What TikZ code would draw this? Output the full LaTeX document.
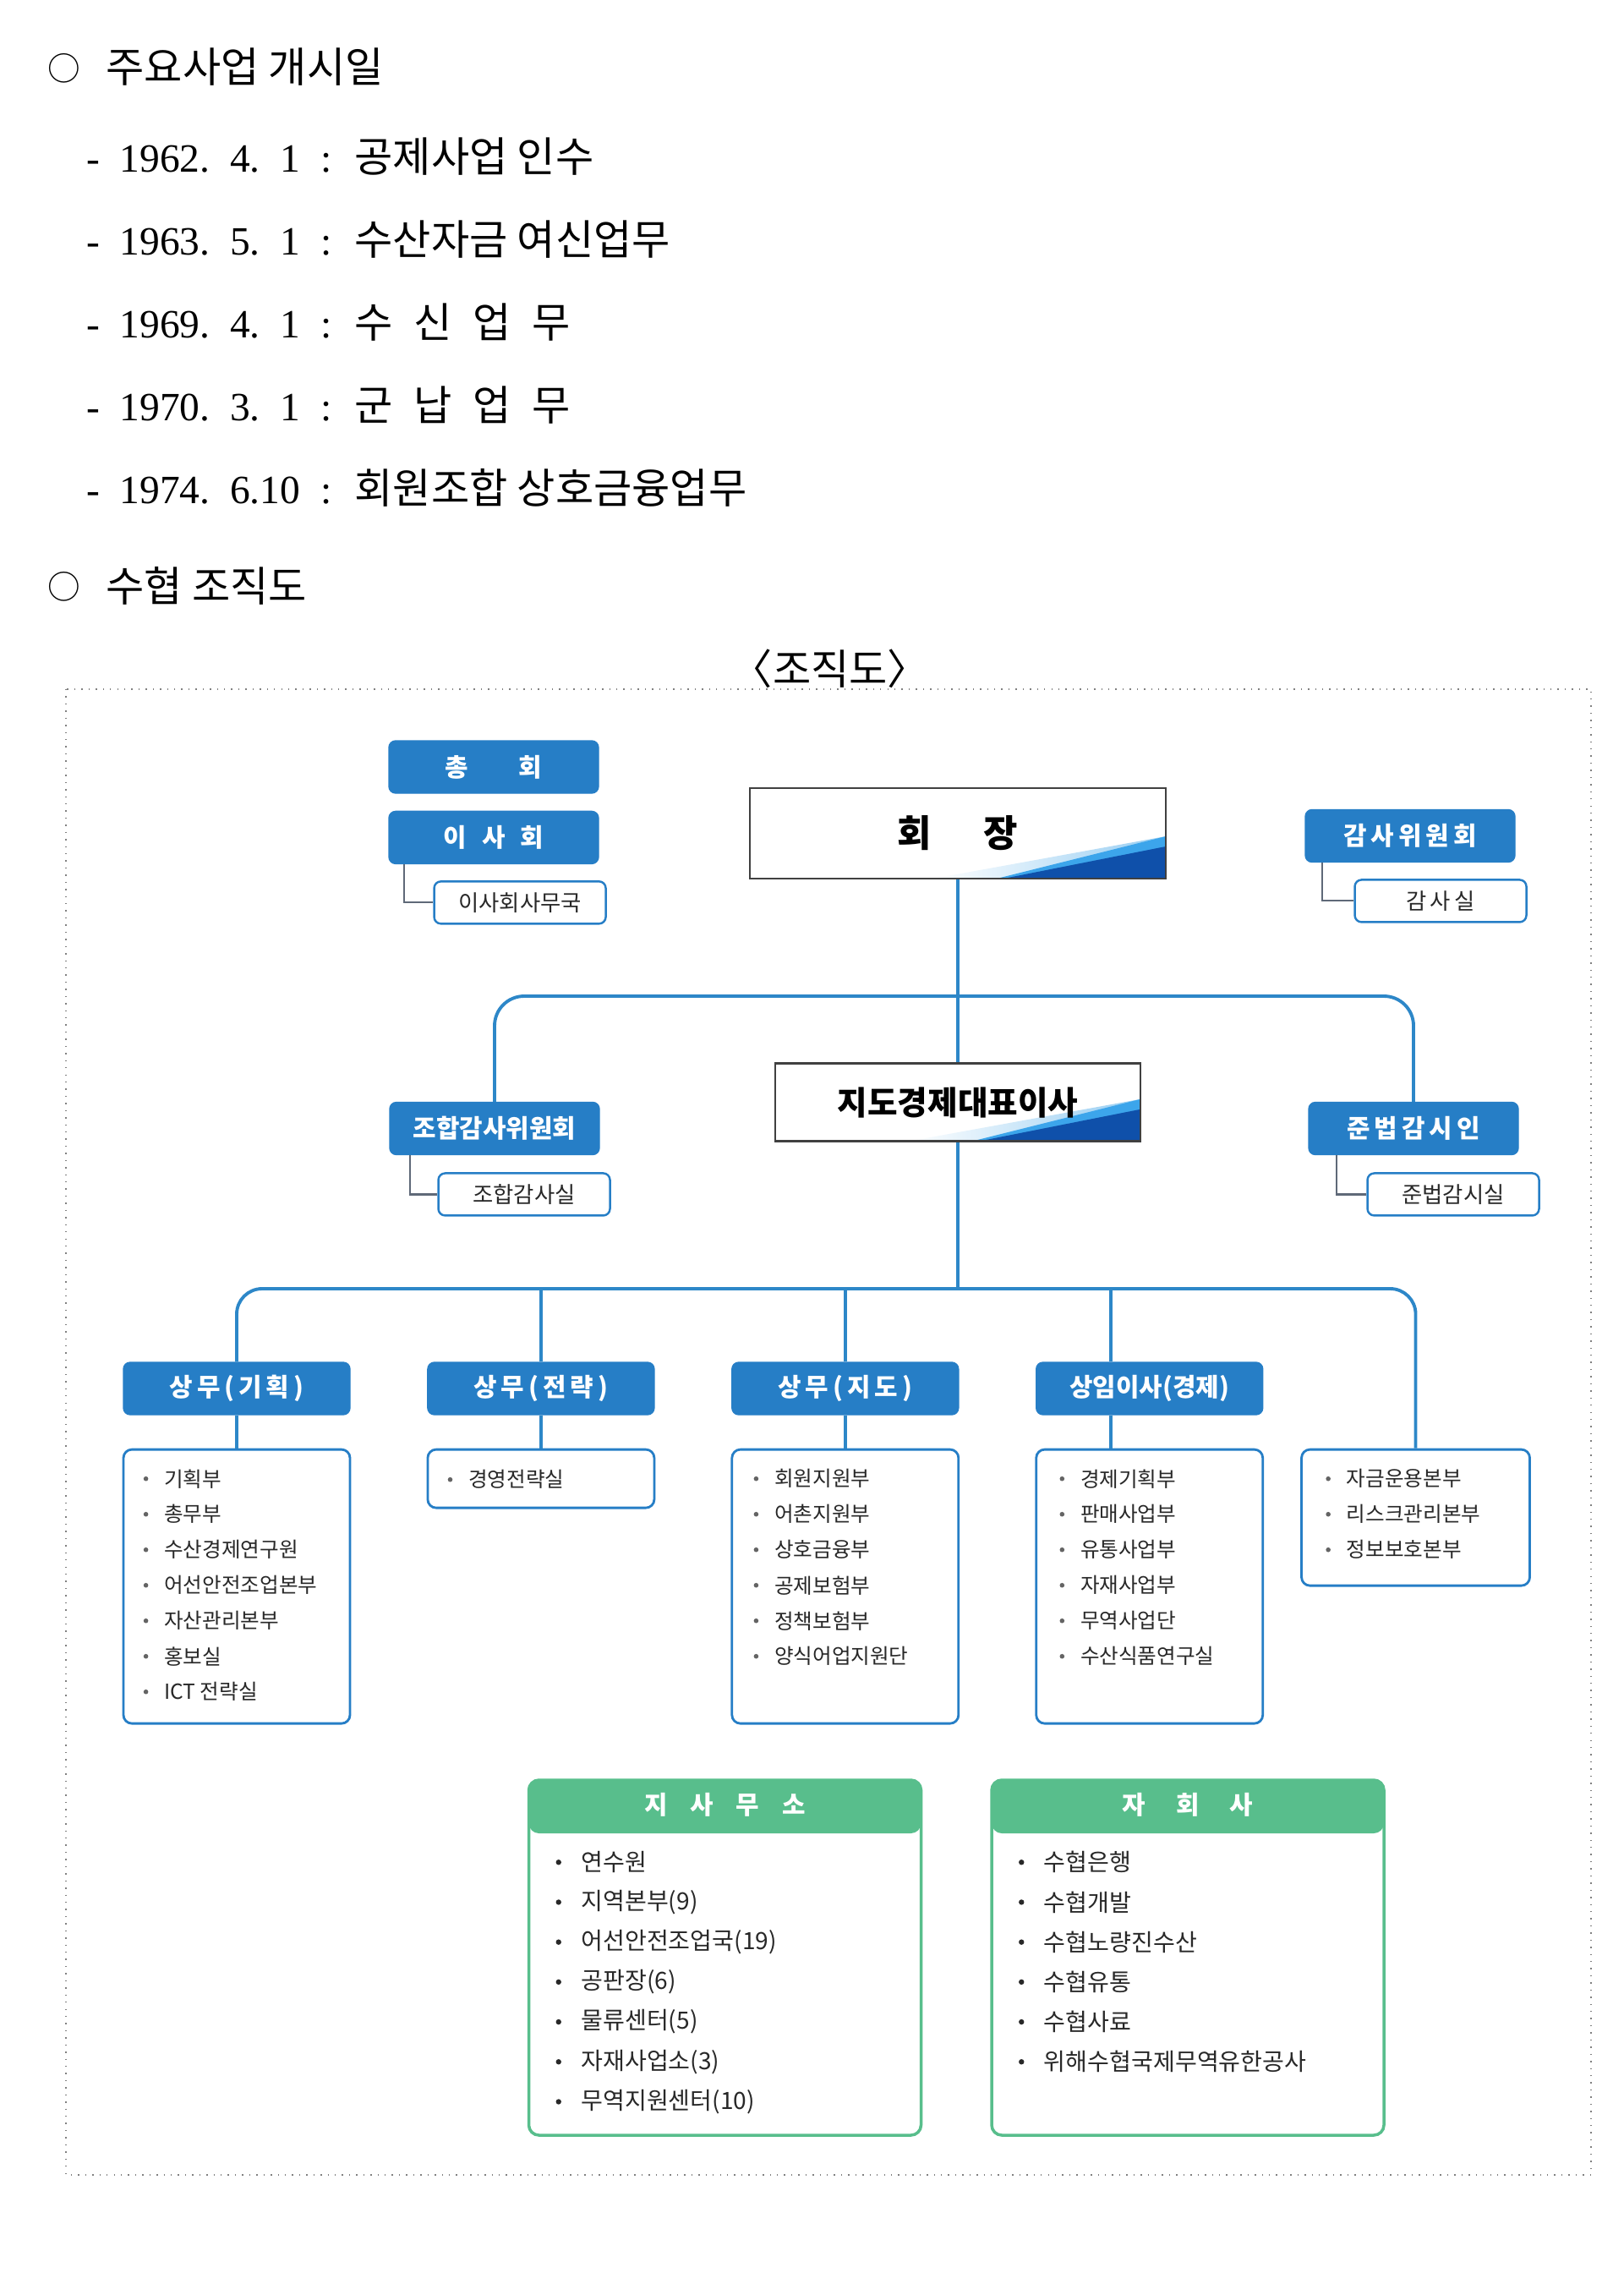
\documentclass[tikz,border=0pt]{standalone}
\usepackage{fontspec}
\setmainfont{Liberation Serif}
\newfontfamily\kr{Noto Sans CJK KR}
\usetikzlibrary{calc,positioning}
\definecolor{sxblue}{RGB}{38,126,198}
\definecolor{sxline}{RGB}{45,135,200}
\definecolor{sxgreen}{RGB}{88,190,140}
\definecolor{sxsub}{RGB}{95,105,120}
\definecolor{sxtext}{RGB}{40,40,40}
\definecolor{sxdot}{RGB}{100,100,100}
\definecolor{sxpale}{RGB}{150,205,242}
\definecolor{sxcyan}{RGB}{60,165,235}
\definecolor{sxdark}{RGB}{15,80,170}

\begin{document}
\begin{tikzpicture}[x=1cm,y=-1cm,inner sep=0pt]
\tikzstyle{para}=[anchor=base west,font=\kr\fontsize{14}{16}\selectfont]
\tikzstyle{date}=[anchor=base west,font=\fontsize{13.5}{16}\selectfont]
\tikzstyle{ring}=[font=\kr\fontsize{11}{12}\selectfont]
\tikzstyle{hdr}=[rounded corners=0.8mm,fill=sxblue,draw=sxblue,text=white,minimum width=24.8mm,minimum height=6.2mm,font=\kr\bfseries\fontsize{8.5}{10}\selectfont]
\tikzstyle{sub}=[rounded corners=0.8mm,draw=sxblue,fill=white,line width=0.7pt,minimum width=20.3mm,minimum height=5mm,text=sxtext,font=\kr\fontsize{7.5}{9}\selectfont]
\tikzstyle{wave}=[path picture={
  \coordinate (w) at (path picture bounding box.south east);
  \shade[left color=white,right color=sxpale] ($(w)+(-2.75,0)$) -- ($(w)+(0,-0.5)$) -- (w) -- cycle;
  \fill[sxcyan] ($(w)+(-2.0,0)$) -- ($(w)+(0,-0.5)$) -- (w) -- cycle;
  \fill[sxdark] ($(w)+(-1.92,0)$) -- ($(w)+(0,-0.38)$) -- (w) -- cycle;}]
\tikzstyle{chief}=[draw=black!75,line width=0.8pt,fill=white,wave]
\tikzstyle{lst}=[rounded corners=1mm,draw=sxblue,line width=0.8pt,fill=white,minimum width=26.8mm]
\tikzstyle{item}=[anchor=west,text=sxtext,font=\kr\fontsize{7}{8}\selectfont]
\tikzstyle{greenhead}=[path picture={
  \fill[sxgreen] (path picture bounding box.north west) rectangle ($(path picture bounding box.north east)+(0,0.63)$);}]
\tikzstyle{big}=[rounded corners=1.2mm,draw=sxgreen,line width=1pt,fill=white,minimum width=46.4mm,minimum height=42mm,greenhead]
\tikzstyle{ghdr}=[text=white,font=\kr\bfseries\fontsize{8.5}{10}\selectfont]
\tikzstyle{gitem}=[anchor=west,text=sxtext,font=\kr\fontsize{8}{9}\selectfont]
\tikzstyle{conn}=[draw=sxline,line width=1.1pt]
\tikzstyle{subc}=[draw=sxsub,line width=0.6pt]

\useasboundingbox (0,0) rectangle (19.2,27.14);

\node[ring] (bul1) at (0.76,0.81) {○};
\node[para] (head1) at (1.25,0.98) {주요사업 개시일};
\foreach \d/\t [count=\i from 0] in {1962.\hspace{0.5em}4.\hspace{0.5em}1/공제사업 인수,1963.\hspace{0.5em}5.\hspace{0.5em}1/수산자금 여신업무,1969.\hspace{0.5em}4.\hspace{0.5em}1/수\hspace{0.5em}신\hspace{0.5em}업\hspace{0.5em}무,1970.\hspace{0.5em}3.\hspace{0.5em}1/군\hspace{0.5em}납\hspace{0.5em}업\hspace{0.5em}무,1974.\hspace{0.5em}6.10/회원조합 상호금융업무}{
  \node[date,anchor=base] (dash\i) at (1.10,2.04+0.9775*\i) {-};
  \node[date] (date\i) at (1.41,2.04+0.9775*\i) {\d};
  \node[date,anchor=base] (colon\i) at (3.86,2.04+0.9775*\i) {:};
  \node[para] (work\i) at (4.19,2.04+0.9775*\i) {\t};
}
\node[ring] (bul2) at (0.76,6.94) {○};
\node[para] (head2) at (1.25,7.11) {수협 조직도};
\node[font=\kr\fontsize{14}{16}\selectfont] (caption) at (9.82,7.91) {〈조직도〉};

\draw[gray,dotted,line width=0.4pt] (0.78,8.15) rectangle (18.82,25.72);

\node[hdr] (chonghoe) at (5.84,9.07) {총\hspace{2em}회};
\node[hdr] (isahoe) [below = 2mm of chonghoe] {이\hspace{0.6em}사\hspace{0.6em}회};
\node[sub] (isasamu) [below right = 1.9mm and 5.3mm of isahoe.south west] {이사회사무국};
\node[chief,minimum width=49.2mm,minimum height=10.7mm,font=\kr\bfseries\fontsize{12.5}{14}\selectfont] (hoejang) at (11.33,9.855) {회\hspace{1.4em}장};
\node[hdr] (gamsawi) at (16.68,9.885) {감\,사\,위\,원\,회};
\node[sub] (gamsasil) [below right = 1.9mm and 5.8mm of gamsawi.south west] {감\,사\,실};

\node[chief,minimum width=43.2mm,minimum height=9.2mm,font=\kr\bfseries\fontsize{11}{13}\selectfont] (daepyo) [below = 21.6mm of hoejang] {지도경제대표이사};
\node[hdr] (johapgam) at (5.85,13.345) {조합감사위원회};
\node[sub] (johapsil) [below right = 2mm and 5.7mm of johapgam.south west] {조합감사실};
\node[hdr] (junbeop) at (16.72,13.345) {준\,법\,감\,시\,인};
\node[sub] (junbeopsil) [below right = 2mm and 6.9mm of junbeop.south west] {준법감시실};

\node[hdr,minimum width=26.8mm] (sang1) at (2.80,16.42) {상\,무\,(\,기\,획\,)};
\node[hdr,minimum width=26.8mm] (sang2) [right = 9.05mm of sang1] {상\,무\,(\,전\,략\,)};
\node[hdr,minimum width=26.8mm] (sang3) [right = 9.05mm of sang2] {상\,무\,(\,지\,도\,)};
\node[hdr,minimum width=26.8mm] (sang4) [right = 9.05mm of sang3] {상임이사(경제)};
\node[lst,minimum height=32.4mm] (list1) [below = 3.9mm of sang1] {};
\node[lst,minimum height=6.9mm] (list2) [below = 3.9mm of sang2] {};
\node[lst,minimum height=32.4mm] (list3) [below = 3.9mm of sang3] {};
\node[lst,minimum height=32.4mm] (list4) [below = 3.9mm of sang4] {};
\node[lst,minimum width=27mm,minimum height=16.1mm] (list5) [below right = 0mm and 4.3mm of list4.north east] {};

\foreach \t [count=\i from 0] in {기획부,총무부,수산경제연구원,어선안전조업본부,자산관리본부,홍보실,ICT 전략실}{
  \fill[sxdot] ($(list1.north west)+(0.28,0.36+0.42*\i)$) circle (0.28mm);
  \node[item] (la\i) at ($(list1.north west)+(0.49,0.36+0.42*\i)$) {\t};
}
\fill[sxdot] ($(list2.north west)+(0.28,0.37)$) circle (0.28mm);
\node[item] (lb0) at ($(list2.north west)+(0.49,0.37)$) {경영전략실};
\foreach \t [count=\i from 0] in {회원지원부,어촌지원부,상호금융부,공제보험부,정책보험부,양식어업지원단}{
  \fill[sxdot] ($(list3.north west)+(0.30,0.36+0.42*\i)$) circle (0.28mm);
  \node[item] (lc\i) at ($(list3.north west)+(0.51,0.36+0.42*\i)$) {\t};
}
\foreach \t [count=\i from 0] in {경제기획부,판매사업부,유통사업부,자재사업부,무역사업단,수산식품연구실}{
  \fill[sxdot] ($(list4.north west)+(0.32,0.36+0.42*\i)$) circle (0.28mm);
  \node[item] (ld\i) at ($(list4.north west)+(0.53,0.36+0.42*\i)$) {\t};
}
\foreach \t [count=\i from 0] in {자금운용본부,리스크관리본부,정보보호본부}{
  \fill[sxdot] ($(list5.north west)+(0.33,0.36+0.42*\i)$) circle (0.28mm);
  \node[item] (le\i) at ($(list5.north west)+(0.54,0.36+0.42*\i)$) {\t};
}

\node[big] (jisa) at (8.575,23.15) {};
\node[ghdr] (jisahead) at ($(jisa.north)+(0,0.31)$) {지\hspace{0.9em}사\hspace{0.9em}무\hspace{0.9em}소};
\node[big] (jahoe) [right = 8mm of jisa] {};
\node[ghdr] (jahoehead) at ($(jahoe.north)+(0,0.31)$) {자\hspace{1.2em}회\hspace{1.2em}사};
\foreach \t [count=\i from 0] in {연수원,지역본부(9),어선안전조업국(19),공판장(6),물류센터(5),자재사업소(3),무역지원센터(10)}{
  \fill[sxtext] ($(jisa.north west)+(0.37,0.99+0.472*\i)$) circle (0.32mm);
  \node[gitem] (ja\i) at ($(jisa.north west)+(0.63,0.99+0.472*\i)$) {\t};
}
\foreach \t [count=\i from 0] in {수협은행,수협개발,수협노량진수산,수협유통,수협사료,위해수협국제무역유한공사}{
  \fill[sxtext] ($(jahoe.north west)+(0.37,0.99+0.472*\i)$) circle (0.32mm);
  \node[gitem] (jb\i) at ($(jahoe.north west)+(0.63,0.99+0.472*\i)$) {\t};
}

\coordinate (bar1) at (11.34,11.78);
\coordinate (bar2) at (11.32,15.24);
\coordinate (s4) at ($(sang4.north)+(-0.46,0)$);

\draw[subc] ($(isahoe.south west)+(0.19,0)$) |- (isasamu.west);
\draw[subc] ($(gamsawi.south west)+(0.21,0)$) |- (gamsasil.west);
\draw[subc] ($(johapgam.south west)+(0.25,0)$) |- (johapsil.west);
\draw[subc] ($(junbeop.south west)+(0.34,0)$) |- (junbeopsil.west);

\draw[conn] (hoejang.south) -- (daepyo.north);
\draw[conn,rounded corners=3.5mm] (johapgam.north) -- (johapgam.north |- bar1) -- (junbeop.north |- bar1) -- (junbeop.north);
\draw[conn] (daepyo.south) -- (daepyo.south |- bar2);
\draw[conn,rounded corners=3mm] (sang1.north) -- (sang1.north |- bar2) -- (list5.north |- bar2) -- (list5.north);
\draw[conn] (sang2.north |- bar2) -- (sang2.north);
\draw[conn] (sang3.north |- bar2) -- (sang3.north);
\draw[conn] (s4 |- bar2) -- (s4);
\draw[conn] (sang1.south) -- (list1.north);
\draw[conn] (sang2.south) -- (list2.north);
\draw[conn] (sang3.south) -- (list3.north);
\draw[conn] (s4 |- sang4.south) -- (s4 |- list4.north);
\end{tikzpicture}
\end{document}
